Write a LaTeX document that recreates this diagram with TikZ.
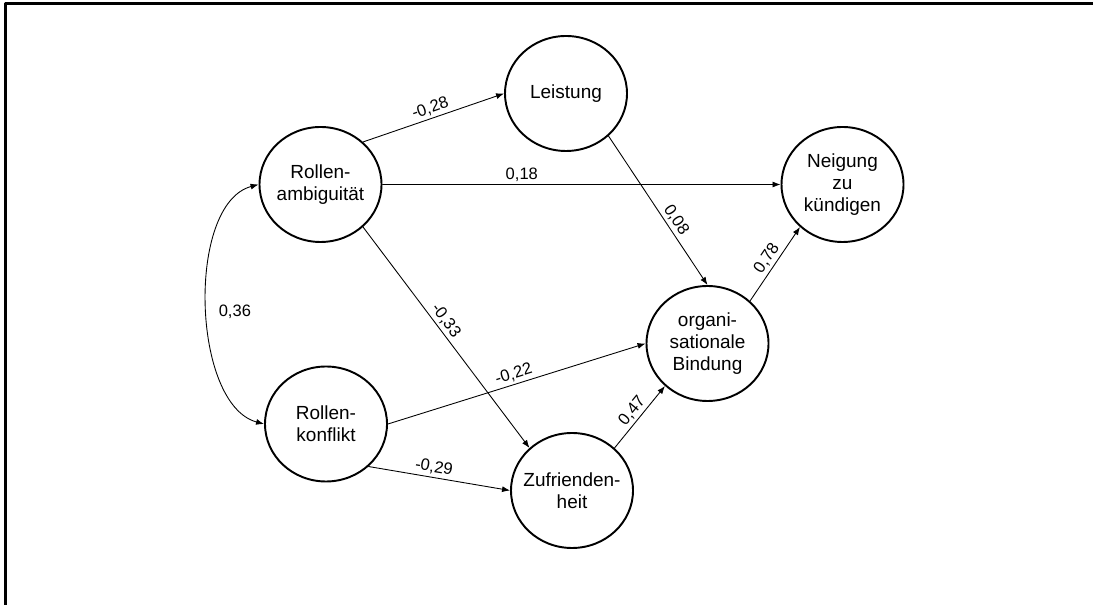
\documentclass[tikz,border=0pt]{standalone}
\usepackage{fontspec}
\setmainfont{Liberation Sans}
\usetikzlibrary{shapes.geometric,arrows.meta}

\tikzset{
  >={Latex[length=1.6mm,width=1.2mm]},
  konstrukt/.style={ellipse,draw,line width=1.1pt,minimum width=2.44cm,minimum height=2.30cm,
    inner sep=-3mm,align=center,font=\fontsize{10.8}{12.5}\selectfont},
  pfad/.style={line width=0.5pt,->},
  doppelpfad/.style={line width=0.5pt,<->},
  koeff/.style={font=\fontsize{9.4}{11}\selectfont,inner sep=1.5pt}
}

\begin{document}
\begin{tikzpicture}[line cap=round,line join=round]
  \useasboundingbox (0,0) rectangle (21.86,12.10);
  \draw[line width=1.7pt,line cap=butt] (21.86,12.02) -- (0.116,12.02) -- (0.116,0);
  % Konstrukte
  \node[konstrukt] (ra) at (6.41,8.41) {Rollen-\\ambiguität};
  \node[konstrukt] (rk) at (6.52,3.62) {Rollen-\\konflikt};
  \node[konstrukt] (lei) at (11.32,10.23) {Leistung};
  \node[konstrukt] (org) at (14.15,5.23) {organi-\\sationale\\Bindung};
  \node[konstrukt] (zuf) at (11.44,2.29) {Zufrienden-\\heit};
  \node[konstrukt] (neig) at (16.85,8.41) {Neigung\\zu\\kündigen};
  % Pfade
  \draw[pfad] (ra.45) -- (lei.west) node[koeff,midway,above,sloped] {-0,28};
  \draw[pfad] (ra.east) -- (neig.west) node[koeff,pos=0.35,above] {0,18};
  \draw[pfad] (ra.-45) -- (zuf.135) node[koeff,pos=0.45,above,sloped] {-0,33};
  \draw[pfad] (lei.-45) -- (org.north) node[koeff,pos=0.6,above,sloped] {0,08};
  \draw[pfad] (rk.east) -- (org.west) node[koeff,midway,above,sloped] {-0,22};
  \draw[pfad] (rk.-45) -- (zuf.west) node[koeff,pos=0.45,above,sloped] {-0,29};
  \draw[pfad] (zuf.45) -- (org.225) node[koeff,midway,above,sloped] {0,47};
  \draw[pfad] (org.45) -- (neig.225) node[koeff,midway,above,sloped] {0,78};
  % Korrelation
  \draw[doppelpfad] (ra.west) to[out=195,in=165,looseness=0.8] node[koeff,right=5pt,yshift=-1.5mm] {0,36} (rk.west);
\end{tikzpicture}
\end{document}
